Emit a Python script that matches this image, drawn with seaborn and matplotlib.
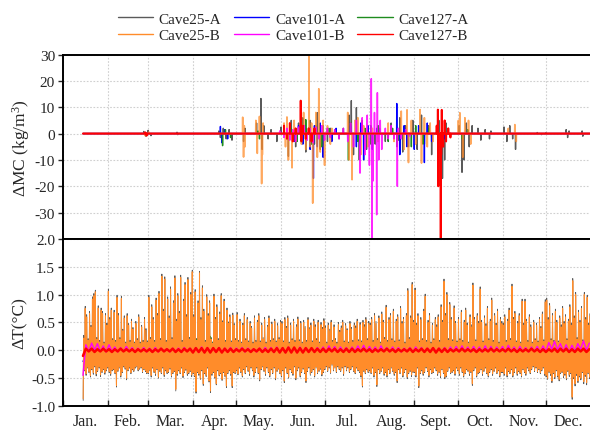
import numpy as np
import matplotlib
matplotlib.use("Agg")
import matplotlib.pyplot as plt
from matplotlib.lines import Line2D
from matplotlib.ticker import FixedLocator, FixedFormatter, NullFormatter
import seaborn as sns

# ---------------- data ----------------
series_names = ["Cave25-A", "Cave25-B", "Cave101-A", "Cave101-B", "Cave127-A", "Cave127-B"]
series_colors = ["#5a5a5a", "#ff8c2a", "#0000ff", "#ff00ff", "#1e8c1e", "#ff0000"]
month_labels = ["Jan.", "Feb.", "Mar.", "Apr.", "May.", "Jun.", "Jul.", "Aug.", "Sept.", "Oct.", "Nov.", "Dec."]
month_starts = [0, 31, 59, 90, 120, 151, 181, 212, 243, 273, 304, 334, 365]
first_day = 14          # records start mid-January
last_day = 365
baseline = 0.0

# --- dT, Cave25-B: daily max / min (one value per day from day 14) ---
t25b_hi = [
    0.22, 0.75, 0.60, 0.18, 0.66, 0.42, 0.92, 0.98, 1.05, 0.20, 0.76, 0.15, 0.72, 0.66, 0.12, 0.62, 0.45,
    1.06, 0.55, 0.72, 0.18, 0.68, 0.15, 0.95, 0.62, 0.20, 0.93, 0.35, 0.58, 0.12, 0.62, 0.45, 0.15, 0.52, 0.38, 0.12, 0.48, 0.18, 0.60, 0.12, 0.42, 0.15, 0.55, 0.36, 0.14,
    0.95, 0.20, 0.78, 0.55, 0.15, 0.90, 0.62, 1.02, 0.18, 1.33, 0.70, 1.28, 0.15, 0.92, 0.58, 1.10, 0.20, 0.85, 1.30, 0.52, 0.98, 0.66, 1.31, 0.15, 0.88, 1.18, 0.60, 1.27, 0.20, 1.00, 1.41,
    0.60, 1.05, 0.18, 0.85, 1.39, 0.55, 1.12, 0.70, 0.15, 0.96, 0.62, 0.85, 0.20, 0.12, 0.97, 0.55, 0.78, 0.18, 0.65, 0.98, 0.50, 0.88, 0.15, 0.72, 0.48, 0.60, 0.14, 0.63, 0.45, 0.18,
    0.64, 0.15, 0.52, 0.12, 0.45, 0.62, 0.18, 0.55, 0.14, 0.48, 0.40, 0.12, 0.58, 0.15, 0.50, 0.62, 0.14, 0.45, 0.20, 0.55, 0.12, 0.42, 0.58, 0.15, 0.47, 0.18, 0.52, 0.14, 0.44, 0.20, 0.50,
    0.48, 0.14, 0.55, 0.40, 0.58, 0.12, 0.45, 0.18, 0.52, 0.15, 0.42, 0.56, 0.16, 0.48, 0.12, 0.50, 0.40, 0.15, 0.55, 0.38, 0.45, 0.14, 0.52, 0.42, 0.18, 0.50, 0.12, 0.46, 0.38, 0.53,
    0.40, 0.12, 0.45, 0.35, 0.50, 0.15, 0.42, 0.18, 0.12, 0.46, 0.33, 0.40, 0.50, 0.14, 0.44, 0.36, 0.12, 0.48, 0.38, 0.15, 0.45, 0.40, 0.52, 0.16, 0.46, 0.14, 0.50, 0.42, 0.55, 0.18, 0.48,
    0.45, 0.55, 0.15, 0.62, 0.48, 0.18, 0.58, 0.12, 0.65, 0.50, 0.20, 0.77, 0.15, 0.55, 0.62, 0.18, 0.70, 0.14, 0.52, 0.60, 0.16, 0.75, 0.48, 0.55, 0.12, 0.62, 1.07, 0.20, 0.58, 1.18, 0.50,
    1.08, 0.45, 0.62, 0.14, 0.55, 0.18, 0.70, 0.97, 0.15, 0.50, 0.62, 0.12, 0.45, 0.18, 0.55, 0.42, 0.60, 0.15, 0.78, 0.50, 1.24, 0.62, 1.00, 0.18, 0.82, 0.55, 0.16, 0.76, 0.48, 0.14,
    0.55, 0.18, 0.68, 0.15, 0.50, 0.72, 0.45, 0.12, 0.60, 0.42, 1.17, 0.55, 0.16, 0.62, 0.48, 1.10, 0.50, 0.14, 0.58, 0.44, 0.75, 0.18, 0.52, 0.90, 0.15, 0.62, 0.45, 0.70, 0.12, 0.55, 0.48,
    0.45, 0.60, 0.15, 0.52, 0.72, 0.18, 1.15, 0.55, 0.66, 0.14, 0.48, 0.62, 0.12, 0.88, 0.45, 0.88, 0.52, 0.15, 0.60, 0.42, 0.12, 0.50, 0.18, 0.45, 0.14, 0.55, 0.40, 0.65, 0.16, 0.87,
    0.90, 0.55, 0.80, 0.18, 0.62, 0.15, 0.70, 0.50, 0.14, 0.58, 0.42, 0.75, 0.48, 0.60, 0.18, 0.52, 0.78, 0.45, 1.25, 0.58, 1.00, 0.20, 0.68, 0.50, 0.75, 0.16, 1.00, 0.55, 0.95, 0.45, 0.62,
]
t25b_lo = [
    -0.87, -0.35, -0.42, -0.30, -0.38, -0.45, -0.33, -0.40, -0.28, -0.42, -0.36, -0.30, -0.44, -0.38, -0.33, -0.40, -0.35,
    -0.30, -0.38, -0.42, -0.35, -0.33, -0.40, -0.63, -0.36, -0.30, -0.45, -0.38, -0.28, -0.32, -0.50, -0.35, -0.30, -0.40, -0.33, -0.36, -0.30, -0.28, -0.35, -0.32, -0.30, -0.38, -0.33, -0.36, -0.40,
    -0.40, -0.35, -0.45, -0.30, -0.38, -0.42, -0.33, -0.48, -0.36, -0.40, -0.30, -0.44, -0.35, -0.40, -0.38, -0.32, -0.45, -0.40, -0.36, -0.70, -0.42, -0.35, -0.40, -0.30, -0.46, -0.38, -0.34, -0.42, -0.40, -0.36, -0.44,
    -0.40, -0.45, -0.74, -0.38, -0.42, -0.50, -0.35, -0.60, -0.40, -0.45, -0.30, -0.55, -0.73, -0.42, -0.38, -0.48, -0.60, -0.35, -0.44, -0.40, -0.52, -0.38, -0.45, -0.64, -0.40, -0.35, -0.42, -0.64, -0.38, -0.40,
    -0.35, -0.42, -0.30, -0.38, -0.45, -0.33, -0.40, -0.28, -0.36, -0.42, -0.30, -0.35, -0.45, -0.38, -0.30, -0.40, -0.52, -0.33, -0.28, -0.36, -0.42, -0.30, -0.38, -0.45, -0.33, -0.40, -0.30, -0.50, -0.36, -0.32, -0.40,
    -0.45, -0.35, -0.55, -0.30, -0.40, -0.48, -0.33, -0.38, -0.42, -0.28, -0.50, -0.35, -0.30, -0.45, -0.38, -0.32, -0.40, -0.55, -0.36, -0.30, -0.42, -0.38, -0.33, -0.45, -0.30, -0.40, -0.36, -0.32, -0.43, -0.38,
    -0.33, -0.28, -0.36, -0.30, -0.40, -0.25, -0.35, -0.30, -0.38, -0.28, -0.33, -0.36, -0.30, -0.42, -0.28, -0.35, -0.30, -0.38, -0.33, -0.28, -0.36, -0.40, -0.30, -0.35, -0.38, -0.45, -0.63, -0.36, -0.40, -0.33, -0.38,
    -0.35, -0.40, -0.30, -0.45, -0.38, -0.62, -0.33, -0.40, -0.36, -0.30, -0.42, -0.38, -0.45, -0.33, -0.40, -0.30, -0.36, -0.42, -0.38, -0.55, -0.33, -0.40, -0.30, -0.45, -0.38, -0.33, -0.48, -0.40, -0.36, -0.44, -0.38,
    -0.38, -0.45, -0.30, -0.64, -0.40, -0.35, -0.42, -0.38, -0.30, -0.36, -0.45, -0.33, -0.40, -0.38, -0.30, -0.35, -0.42, -0.38, -0.46, -0.33, -0.40, -0.48, -0.45, -0.36, -0.30, -0.40, -0.38, -0.35, -0.42, -0.30,
    -0.35, -0.42, -0.30, -0.38, -0.45, -0.40, -0.33, -0.36, -0.42, -0.38, -0.60, -0.35, -0.30, -0.45, -0.40, -0.38, -0.33, -0.42, -0.36, -0.30, -0.40, -0.45, -0.38, -0.33, -0.42, -0.36, -0.30, -0.40, -0.35, -0.45, -0.38,
    -0.38, -0.42, -0.30, -0.45, -0.36, -0.40, -0.33, -0.45, -0.38, -0.30, -0.42, -0.36, -0.40, -0.45, -0.33, -0.38, -0.42, -0.30, -0.35, -0.40, -0.33, -0.28, -0.36, -0.30, -0.38, -0.33, -0.40, -0.35, -0.30, -0.42,
    -0.45, -0.50, -0.38, -0.42, -0.55, -0.40, -0.48, -0.35, -0.45, -0.52, -0.40, -0.38, -0.46, -0.42, -0.50, -0.36, -0.44, -0.40, -0.84, -0.48, -0.60, -0.42, -0.55, -0.45, -0.50, -0.38, -0.56, -0.44, -0.58, -0.40, -0.48,
]
# --- dT, Cave25-A: daily max / min ---
t25a_hi = [
    0.27, 0.79, 0.64, 0.21, 0.70, 0.45, 0.96, 1.02, 1.08, 0.23, 0.80, 0.18, 0.76, 0.70, 0.15, 0.66, 0.49,
    1.10, 0.59, 0.76, 0.21, 0.72, 0.18, 0.99, 0.66, 0.23, 0.97, 0.38, 0.62, 0.15, 0.66, 0.48, 0.18, 0.56, 0.41, 0.15, 0.52, 0.21, 0.64, 0.15, 0.45, 0.18, 0.59, 0.39, 0.17,
    0.99, 0.23, 0.82, 0.59, 0.18, 0.94, 0.66, 1.06, 0.21, 1.37, 0.74, 1.32, 0.18, 0.96, 0.62, 1.14, 0.23, 0.89, 1.34, 0.56, 1.02, 0.70, 1.35, 0.18, 0.92, 1.22, 0.64, 1.31, 0.23, 1.04, 1.44,
    0.64, 1.09, 0.21, 0.89, 1.42, 0.59, 1.16, 0.74, 0.18, 1.00, 0.66, 0.89, 0.23, 0.15, 1.01, 0.59, 0.82, 0.21, 0.69, 1.02, 0.53, 0.92, 0.18, 0.76, 0.51, 0.64, 0.17, 0.67, 0.48, 0.21,
    0.68, 0.18, 0.56, 0.15, 0.49, 0.66, 0.21, 0.59, 0.17, 0.52, 0.43, 0.15, 0.62, 0.18, 0.54, 0.66, 0.17, 0.49, 0.23, 0.59, 0.15, 0.45, 0.62, 0.18, 0.51, 0.21, 0.56, 0.17, 0.48, 0.23, 0.54,
    0.52, 0.17, 0.59, 0.43, 0.62, 0.15, 0.49, 0.21, 0.56, 0.18, 0.46, 0.60, 0.19, 0.52, 0.15, 0.54, 0.43, 0.18, 0.59, 0.41, 0.49, 0.17, 0.56, 0.46, 0.21, 0.54, 0.15, 0.50, 0.41, 0.57,
    0.44, 0.15, 0.49, 0.38, 0.54, 0.18, 0.46, 0.21, 0.15, 0.50, 0.36, 0.44, 0.54, 0.17, 0.48, 0.39, 0.15, 0.52, 0.41, 0.18, 0.49, 0.44, 0.56, 0.19, 0.50, 0.17, 0.54, 0.46, 0.59, 0.21, 0.52,
    0.49, 0.59, 0.18, 0.66, 0.52, 0.21, 0.62, 0.15, 0.69, 0.54, 0.23, 0.81, 0.18, 0.59, 0.66, 0.21, 0.74, 0.17, 0.56, 0.64, 0.19, 0.79, 0.52, 0.59, 0.15, 0.66, 1.11, 0.23, 0.62, 1.22, 0.54,
    1.12, 0.49, 0.66, 0.17, 0.59, 0.21, 0.74, 1.01, 0.18, 0.54, 0.66, 0.15, 0.49, 0.21, 0.59, 0.46, 0.64, 0.18, 0.82, 0.54, 1.28, 0.66, 1.04, 0.21, 0.86, 0.59, 0.19, 0.80, 0.52, 0.17,
    0.59, 0.21, 0.72, 0.18, 0.54, 0.76, 0.49, 0.15, 0.64, 0.46, 1.21, 0.59, 0.19, 0.66, 0.52, 1.14, 0.54, 0.17, 0.62, 0.48, 0.79, 0.21, 0.56, 0.94, 0.18, 0.66, 0.49, 0.74, 0.15, 0.59, 0.52,
    0.49, 0.64, 0.18, 0.56, 0.76, 0.21, 1.19, 0.59, 0.70, 0.17, 0.52, 0.66, 0.15, 0.92, 0.49, 0.92, 0.56, 0.18, 0.64, 0.46, 0.15, 0.54, 0.21, 0.49, 0.17, 0.59, 0.43, 0.69, 0.19, 0.91,
    0.94, 0.59, 0.84, 0.21, 0.66, 0.18, 0.74, 0.54, 0.17, 0.62, 0.46, 0.79, 0.52, 0.64, 0.21, 0.56, 0.82, 0.49, 1.29, 0.62, 1.04, 0.23, 0.72, 0.54, 0.79, 0.19, 1.04, 0.59, 0.99, 0.49, 0.66,
]
t25a_lo = [
    -0.90, -0.37, -0.45, -0.32, -0.40, -0.48, -0.35, -0.43, -0.30, -0.46, -0.38, -0.32, -0.47, -0.40, -0.35, -0.43, -0.37,
    -0.32, -0.40, -0.45, -0.37, -0.35, -0.42, -0.66, -0.38, -0.32, -0.48, -0.40, -0.30, -0.34, -0.53, -0.37, -0.32, -0.42, -0.35, -0.38, -0.32, -0.30, -0.37, -0.34, -0.32, -0.40, -0.35, -0.38, -0.42,
    -0.42, -0.37, -0.48, -0.32, -0.40, -0.45, -0.35, -0.50, -0.38, -0.42, -0.32, -0.47, -0.37, -0.42, -0.40, -0.34, -0.48, -0.42, -0.38, -0.73, -0.45, -0.37, -0.42, -0.32, -0.49, -0.40, -0.36, -0.45, -0.42, -0.38, -0.47,
    -0.42, -0.47, -0.77, -0.40, -0.45, -0.52, -0.37, -0.63, -0.42, -0.47, -0.32, -0.57, -0.76, -0.45, -0.40, -0.50, -0.62, -0.37, -0.46, -0.42, -0.54, -0.40, -0.47, -0.67, -0.42, -0.37, -0.45, -0.67, -0.40, -0.42,
    -0.37, -0.44, -0.32, -0.40, -0.48, -0.35, -0.42, -0.30, -0.38, -0.45, -0.32, -0.37, -0.48, -0.40, -0.32, -0.42, -0.55, -0.35, -0.30, -0.38, -0.45, -0.32, -0.40, -0.48, -0.35, -0.42, -0.32, -0.53, -0.38, -0.34, -0.42,
    -0.48, -0.37, -0.58, -0.32, -0.42, -0.50, -0.35, -0.40, -0.45, -0.30, -0.53, -0.37, -0.32, -0.48, -0.40, -0.34, -0.42, -0.58, -0.38, -0.32, -0.45, -0.40, -0.35, -0.48, -0.32, -0.42, -0.38, -0.34, -0.46, -0.40,
    -0.35, -0.30, -0.38, -0.32, -0.42, -0.27, -0.37, -0.32, -0.40, -0.30, -0.35, -0.38, -0.32, -0.45, -0.30, -0.37, -0.32, -0.40, -0.35, -0.30, -0.38, -0.42, -0.32, -0.37, -0.40, -0.48, -0.66, -0.38, -0.42, -0.35, -0.40,
    -0.37, -0.42, -0.32, -0.48, -0.40, -0.65, -0.35, -0.42, -0.38, -0.32, -0.45, -0.40, -0.48, -0.35, -0.42, -0.32, -0.38, -0.45, -0.40, -0.58, -0.35, -0.42, -0.32, -0.48, -0.40, -0.35, -0.51, -0.42, -0.38, -0.47, -0.40,
    -0.40, -0.48, -0.32, -0.67, -0.42, -0.37, -0.45, -0.40, -0.32, -0.38, -0.48, -0.35, -0.42, -0.40, -0.32, -0.37, -0.45, -0.40, -0.49, -0.35, -0.42, -0.51, -0.48, -0.38, -0.32, -0.42, -0.40, -0.37, -0.45, -0.32,
    -0.37, -0.45, -0.32, -0.40, -0.48, -0.42, -0.35, -0.38, -0.45, -0.40, -0.63, -0.37, -0.32, -0.48, -0.42, -0.40, -0.35, -0.45, -0.38, -0.32, -0.42, -0.48, -0.40, -0.35, -0.45, -0.38, -0.32, -0.42, -0.37, -0.48, -0.40,
    -0.40, -0.45, -0.32, -0.48, -0.38, -0.42, -0.35, -0.48, -0.40, -0.32, -0.45, -0.38, -0.42, -0.48, -0.35, -0.40, -0.45, -0.32, -0.37, -0.42, -0.35, -0.30, -0.38, -0.32, -0.40, -0.35, -0.42, -0.37, -0.32, -0.45,
    -0.48, -0.52, -0.40, -0.45, -0.58, -0.42, -0.51, -0.37, -0.48, -0.55, -0.42, -0.40, -0.49, -0.45, -0.53, -0.38, -0.47, -0.42, -0.88, -0.51, -0.64, -0.45, -0.58, -0.48, -0.53, -0.40, -0.60, -0.47, -0.62, -0.42, -0.51,
]
# --- dT, Cave127-B and Cave101-B: one value every 2 days (alternating high / low) ---
t127b = [
    -0.10, 0.03, -0.02, 0.03, -0.03, 0.02, -0.02, 0.03, -0.02, 0.02, -0.03, 0.02, -0.02, 0.03, -0.02, 0.02,
    -0.02, 0.02, -0.03, 0.02, -0.02, 0.02, -0.02, 0.02, -0.03, 0.02, -0.02, 0.03, -0.02, 0.02, -0.02, 0.03,
    -0.03, 0.02, -0.03, 0.03, -0.02, 0.03, -0.04, 0.04, -0.03, 0.04, -0.04, 0.04, -0.04, 0.04, -0.03, 0.04,
    -0.04, 0.03, -0.03, 0.03, -0.03, 0.02, -0.02, 0.03, -0.02, 0.02, -0.03, 0.02, -0.02, 0.03, -0.03, 0.02,
    -0.03, 0.03, -0.03, 0.04, -0.04, 0.04, -0.04, 0.05, -0.04, 0.05, -0.04, 0.04, -0.04, 0.04, -0.03, 0.04,
    -0.03, 0.03, -0.03, 0.03, -0.03, 0.03, -0.02, 0.03, -0.03, 0.02, -0.03, 0.03, -0.03, 0.03, -0.03, 0.02,
    -0.02, 0.03, -0.02, 0.02, -0.03, 0.02, -0.02, 0.02, -0.02, 0.03, -0.02, 0.02, -0.03, 0.02, -0.02, 0.02,
    -0.02, 0.03, -0.03, 0.02, -0.02, 0.03, -0.03, 0.03, -0.03, 0.04, -0.04, 0.03, -0.03, 0.03, -0.03, 0.02,
    -0.02, 0.02, -0.02, 0.03, -0.02, 0.02, -0.02, 0.02, -0.03, 0.02, -0.02, 0.02, -0.02, 0.03, -0.02, 0.02,
    -0.02, 0.02, -0.02, 0.03, -0.02, 0.02, -0.03, 0.02, -0.02, 0.02, -0.02, 0.03, -0.02, 0.02, -0.03, 0.02,
    -0.03, 0.02, -0.02, 0.03, -0.03, 0.03, -0.02, 0.03, -0.03, 0.02, -0.03, 0.03, -0.02, 0.03, -0.03, 0.02,
]
t101b = [
    -0.45, 0.10, -0.02, 0.13, 0.00, 0.12, -0.02, 0.08, -0.03, 0.10, -0.02, 0.06, -0.03, 0.05, -0.02, 0.07,
    -0.02, 0.05, -0.03, 0.04, -0.02, 0.05, -0.03, 0.04, -0.02, 0.05, -0.03, 0.04, -0.02, 0.03, -0.03, 0.04,
    -0.02, 0.04, -0.03, 0.05, -0.02, 0.04, -0.03, 0.05, -0.04, 0.06, -0.03, 0.05, -0.02, 0.04, -0.03, 0.05,
    -0.03, 0.04, -0.02, 0.05, -0.03, 0.04, -0.02, 0.05, -0.03, 0.04, -0.02, 0.03, -0.03, 0.04, -0.02, 0.05,
    -0.03, 0.05, -0.04, 0.06, -0.03, 0.05, -0.04, 0.06, -0.03, 0.05, -0.04, 0.06, -0.03, 0.05, -0.02, 0.04,
    -0.03, 0.05, -0.02, 0.06, -0.03, 0.08, -0.02, 0.07, -0.03, 0.06, -0.02, 0.05, -0.03, 0.06, -0.02, 0.08,
    -0.02, 0.09, -0.03, 0.07, -0.02, 0.06, -0.03, 0.08, -0.02, 0.05, -0.03, 0.06, -0.02, 0.05, -0.03, 0.04,
    -0.02, 0.05, -0.03, 0.06, -0.02, 0.05, -0.03, 0.04, -0.02, 0.05, -0.03, 0.04, -0.02, 0.05, -0.03, 0.06,
    -0.02, 0.07, -0.03, 0.08, -0.02, 0.06, -0.03, 0.07, -0.02, 0.06, -0.03, 0.08, -0.02, 0.07, -0.03, 0.06,
    -0.02, 0.07, -0.03, 0.09, -0.02, 0.06, -0.03, 0.07, -0.02, 0.05, -0.03, 0.06, -0.02, 0.07, -0.03, 0.08,
    -0.02, 0.14, 0.02, 0.16, 0.01, 0.12, -0.02, 0.10, -0.03, 0.09, -0.02, 0.12, 0.02, 0.17, 0.00, 0.13,
]
# --- dT, Cave101-A and Cave127-A: one value every 4 days ---
t101a = [
    -0.20, 0.04, -0.03, 0.05, -0.04, 0.03, -0.05, 0.04,
    -0.03, 0.04, -0.04, 0.03, -0.05, 0.04, -0.03, 0.05,
    -0.04, 0.03, -0.05, 0.06, -0.04, 0.05, -0.06, 0.04,
    -0.03, 0.05, -0.04, 0.03, -0.05, 0.04, -0.03, 0.05,
    -0.04, 0.06, -0.05, 0.04, -0.06, 0.05, -0.04, 0.06,
    -0.05, 0.04, -0.03, 0.05, -0.04, 0.03, -0.05, 0.04,
    -0.03, 0.04, -0.04, 0.05, -0.03, 0.04, -0.05, 0.03,
    -0.04, 0.05, -0.03, 0.04, -0.05, 0.04, -0.03, 0.05,
    -0.04, 0.03, -0.05, 0.04, -0.03, 0.05, -0.04, 0.03,
    -0.05, 0.04, -0.03, 0.05, -0.04, 0.03, -0.05, 0.04,
    -0.04, 0.05, -0.03, 0.06, -0.05, 0.04, -0.04, 0.05,
]
t127a = [
    -0.10, 0.04, -0.03, 0.05, -0.04, 0.03, -0.05, 0.04,
    -0.03, 0.05, -0.04, 0.03, -0.05, 0.04, -0.03, 0.05,
    -0.06, 0.08, -0.10, 0.12, 0.22, -0.18, 0.25, -0.20,
    0.18, -0.22, 0.12, -0.08, 0.06, -0.05, 0.04, -0.05,
    0.06, -0.05, 0.07, -0.06, 0.05, -0.07, 0.06, -0.05,
    0.04, -0.05, 0.03, -0.04, 0.05, -0.03, 0.04, -0.05,
    0.03, -0.04, 0.05, -0.03, 0.04, -0.05, 0.03, -0.04,
    0.05, -0.04, 0.03, -0.05, 0.04, -0.03, 0.05, -0.04,
    0.03, -0.05, 0.04, -0.03, 0.05, -0.04, 0.03, -0.05,
    0.04, -0.03, 0.05, -0.04, 0.03, -0.05, 0.04, -0.03,
    0.05, -0.04, 0.03, -0.05, 0.04, -0.03, 0.05, -0.04,
]

# --- dMC events (day of year, value); zero elsewhere ---
mc25a_day = [56, 57.5, 59, 61, 79, 79.5, 108, 109, 111, 113, 115, 117, 125, 126, 134, 137, 137.8, 139,
             142, 144, 148, 151, 153, 156, 158, 161, 163, 166, 168, 171, 174, 176, 178, 180, 183, 185,
             188, 191, 194, 198, 199.5, 201, 203, 205, 207, 210, 213, 216, 219, 223, 227, 231, 233, 235,
             237, 239, 242, 245, 248, 250, 253, 255, 260, 262.5, 264, 265, 274, 276, 277.5, 279, 281, 283,
             287, 289, 292, 295, 296, 305, 307, 309, 311, 313, 328, 331, 334, 348, 349, 350, 359, 359.5]
mc25a_val = [0.8, -1.0, 1.2, -0.8, 0.5, -0.4, 1.0, -1.5, 2.0, -2.0, 1.5, -2.5, -3.0, 2.0, 4.0, 13.3, -6.0, 3.0,
             -2.0, 1.5, -3.0, 2.5, 3.0, -8.6, 5.0, -5.0, 4.0, 6.0, -7.0, 5.0, -4.0, 7.9, -6.0, 3.0, -3.0, 2.0,
             1.5, -2.0, 2.0, 7.0, 12.5, -8.0, 9.8, -10.0, 5.0, -6.0, 3.0, -4.0, 2.0, -3.0, 4.0, -5.0, 6.0, -7.0,
             3.0, -5.0, 5.0, -6.0, 7.0, -4.0, 3.0, -8.0, 5.0, -17.0, -10.0, 4.0, 3.0, -14.7, -10.0, 4.0, -5.0, 3.0,
             2.0, -2.5, 1.5, -2.0, 1.0, 2.5, -3.0, 3.0, -2.0, -6.0, 0.4, -0.4, 0.3, 1.5, -1.5, 1.0, 1.0, -1.0]
mc25b_day = [57, 59.5, 124.4, 125, 125.5, 126, 133.5, 134.5, 136, 137.5, 138, 138.5,
             153, 154, 155, 156, 157, 158.5, 160, 161, 163, 165, 166.5, 168, 170.3, 171, 172, 172.8, 175, 176,
             177, 178, 180, 181, 183, 185, 186, 197, 198, 200, 202, 204, 206, 208, 211, 214, 218,
             225, 229, 234, 236, 238, 239, 241, 244, 247, 248, 250, 252, 254, 256,
             273.5, 274.5, 276.5, 278, 280.5, 282, 308, 312.5, 313.5]
mc25b_val = [-0.8, 0.6, 6.2, -8.9, 3.0, -5.0, 5.0, -7.5, 6.5, -19.0, -8.0, 4.0,
             4.0, -5.0, 6.3, -10.0, 3.0, -13.0, 5.0, -3.0, 2.0, -4.0, 8.0, -6.0, 29.5, -5.0, 4.0, -26.4, 8.0, -9.0,
             17.0, -7.0, 5.0, -12.0, 3.0, -4.0, 2.0, 8.0, -10.0, -17.5, 5.0, 6.0, -8.0, 3.0, -5.0, 2.0, -3.0,
             4.0, -3.0, 8.5, -6.0, 9.0, -11.0, 5.0, -4.0, 9.1, -11.2, 6.0, -5.0, 4.0, -3.0,
             5.0, 7.9, -9.0, 6.0, 5.0, -4.0, 2.0, 3.4, -3.0]
mc101a_day = [109, 110, 112, 114, 157, 160, 163, 166, 168, 171, 173.3, 174, 176, 178, 180, 183, 186, 189,
              199, 203, 206, 208, 211, 214, 217, 230.9, 233, 236, 238, 243, 246, 250, 252, 255, 262, 264]
mc101a_val = [2.7, -3.5, 1.5, -2.0, 2.0, -3.0, 3.0, -4.0, 2.0, -6.0, -17.0, 3.0, -5.0, 4.0, -9.0, 2.0, -3.0, 2.0,
              3.0, -5.0, 4.0, -10.0, 3.0, -6.0, 2.0, 11.4, -8.0, 3.0, -5.0, -6.0, 3.0, -11.0, 4.0, -3.0, 2.0, -2.0]
mc101b_day = [150, 153, 155, 157, 159, 161, 163, 165, 167, 169, 171, 173, 175, 177, 179, 181, 183, 185,
              188, 191, 194, 197, 199, 201, 203, 205.5, 207, 209, 210.5, 212, 213.3, 213.8, 214.5, 215.5,
              217, 217.5, 218.5, 219.5, 220.5, 223, 225, 227, 229, 231.3, 232, 234, 237, 240]
mc101b_val = [1.0, -1.5, 2.0, -2.5, 1.5, -3.0, 2.5, -2.0, 3.0, -2.5, 2.0, -3.5, 2.5, -2.0, 3.0, -2.5, 2.0, -1.5,
              1.5, -2.0, 2.0, -3.0, 4.0, -5.0, 5.0, -15.0, 6.0, -8.0, 7.0, -12.0, 20.8, -40.0, -18.0, 8.0,
              -30.8, 15.5, -10.0, 5.0, -6.0, 2.0, -2.0, 3.0, -2.0, -20.0, 2.0, -2.0, 1.5, -1.0]
mc127a_day = [110.5, 112.5, 116, 135, 136, 158, 162, 168, 172, 175, 179, 184, 197.5, 199, 204, 209, 213, 218,
              225, 228, 232, 241, 244, 249, 253, 276, 280]
mc127a_val = [-4.6, 1.5, -1.5, 1.0, -2.0, 2.0, -3.0, 5.3, -4.0, 3.0, -5.0, 2.0, -10.0, 4.0, -3.0, 2.0, -4.0, 3.0,
              -3.0, 2.0, -2.5, -5.0, 3.0, -4.0, 2.0, -2.0, 1.5]
mc127b_day = [57, 58, 153, 155, 157, 159, 161, 164.5, 165, 166, 168, 170, 172, 174,
              258.5, 259.3, 259.6, 261.3, 261.6, 262, 263, 264, 265, 266.5, 268]
mc127b_val = [0.5, -0.8, 3.0, -2.0, 4.0, -3.0, 2.0, 12.5, -3.0, 3.0, -2.0, 2.0, -3.0, 2.0,
              3.0, 9.1, -20.0, -40.0, -8.0, 9.0, -5.0, 5.0, -3.0, 2.0, -1.5]

# ---------------- style ----------------
sns.set_style("ticks")
plt.rcParams["font.family"] = ["Liberation Serif", "DejaVu Serif"]
plt.rcParams["mathtext.fontset"] = "custom"
plt.rcParams["mathtext.rm"] = "Liberation Serif"
plt.rcParams["mathtext.it"] = "Liberation Serif:italic"
plt.rcParams["axes.unicode_minus"] = False

fig = plt.figure(figsize=(5.9, 4.31), dpi=100)
ax_top = fig.add_axes([0.1063, 0.4432, 0.8950, 0.4280])
ax_bot = fig.add_axes([0.1063, 0.0557, 0.8950, 0.3875])


def daily_series(hi, lo):
    """Night minimum and afternoon maximum of each day, with quiet (baseline) hours between."""
    n = min(len(hi), len(lo))
    xs, ys = [], []
    for i in range(n):
        d = first_day + i
        xs += [d + 0.15, d + 0.35, d + 0.55, d + 0.8]
        ys += [lo[i], baseline, hi[i], baseline]
    return np.asarray(xs), np.asarray(ys)


def stepped_series(vals, step):
    x = first_day + step * np.arange(len(vals))
    return x, np.asarray(vals, dtype=float)


def spike_series(days, vals):
    xs, ys = [first_day], [baseline]
    for d, v in sorted(zip(days, vals)):
        xs += [d - 0.12, d, d + 0.12]
        ys += [baseline, v, baseline]
    xs.append(last_day)
    ys.append(baseline)
    return np.asarray(xs), np.asarray(ys)


# drawing order: all "A" stations first, then all "B" stations
draw_order = [0, 2, 4, 1, 3, 5]

# ---------------- top panel: dMC ----------------
mc_data = [(mc25a_day, mc25a_val), (mc25b_day, mc25b_val), (mc101a_day, mc101a_val),
           (mc101b_day, mc101b_val), (mc127a_day, mc127a_val), (mc127b_day, mc127b_val)]
mc_alpha = [1.0, 0.75, 1.0, 0.85, 1.0, 1.0]
mc_lw = [1.0, 1.2, 1.0, 1.1, 1.0, 1.4]
for k in draw_order:
    x, y = spike_series(*mc_data[k])
    sns.lineplot(x=x, y=y, ax=ax_top, color=series_colors[k], lw=mc_lw[k], alpha=mc_alpha[k],
                 estimator=None, sort=False)

# ---------------- bottom panel: dT ----------------
t_data = [daily_series(t25a_hi, t25a_lo), daily_series(t25b_hi, t25b_lo),
          stepped_series(t101a, 4), stepped_series(t101b, 2),
          stepped_series(t127a, 4), stepped_series(t127b, 2)]
t_alpha = [1.0, 1.0, 1.0, 1.0, 1.0, 1.0]
t_lw = [0.6, 0.75, 0.9, 1.0, 0.9, 1.8]
for k in draw_order:
    x, y = t_data[k]
    sns.lineplot(x=x, y=y, ax=ax_bot, color=series_colors[k], lw=t_lw[k], alpha=t_alpha[k],
                 estimator=None, sort=False)

# ---------------- axes formatting ----------------
mids = [(month_starts[i] + month_starts[i + 1]) / 2 for i in range(12)]
for ax in (ax_top, ax_bot):
    ax.set_xlim(0, 365)
    ax.xaxis.set_major_locator(FixedLocator(month_starts[:-1]))
    ax.xaxis.set_major_formatter(NullFormatter())
    ax.xaxis.set_minor_locator(FixedLocator(mids))
    ax.grid(True, which="major", color="#cfcfcf", ls=(0, (1.5, 1.5)), lw=0.8)
    for s in ax.spines.values():
        s.set_linewidth(1.4)
        s.set_color("black")
    ax.set_xlabel("")
    ax.tick_params(axis="y", direction="out", length=3.5, width=1.0, labelsize=11, pad=2)

ax_top.set_ylim(-40, 30)
ax_top.set_yticks([-30, -20, -10, 0, 10, 20, 30])
ax_top.set_yticklabels(["-30", "-20", "-10", "0", "10", "20", "30"])
ax_top.xaxis.set_minor_formatter(NullFormatter())
ax_top.tick_params(axis="x", which="both", length=0)
ax_top.set_ylabel("ΔMC (kg/m$^3$)", fontsize=12.5, labelpad=2)

ax_bot.set_ylim(-1.0, 2.0)
yt = [-1.0, -0.5, 0.0, 0.5, 1.0, 1.5, 2.0]
ax_bot.set_yticks(yt)
ax_bot.set_yticklabels([f"{v:.1f}" for v in yt])
ax_bot.xaxis.set_minor_formatter(FixedFormatter(month_labels))
ax_bot.tick_params(axis="x", which="major", direction="in", length=4, width=1.0)
ax_bot.tick_params(axis="x", which="minor", length=0, labelsize=11.5, pad=5)
ax_bot.set_ylabel("ΔT(°C)", fontsize=12.5, labelpad=2)

# ---------------- legend ----------------
handles = [Line2D([0], [0], color=c, lw=1.0) for c in series_colors]
fig.legend(handles, series_names, ncol=3, loc="upper center", bbox_to_anchor=(0.497, 0.995),
           frameon=False, fontsize=11, handlelength=2.3, handletextpad=0.4,
           columnspacing=0.8, labelspacing=0.2, borderaxespad=0.3)

fig.savefig("out.png", dpi=100)
